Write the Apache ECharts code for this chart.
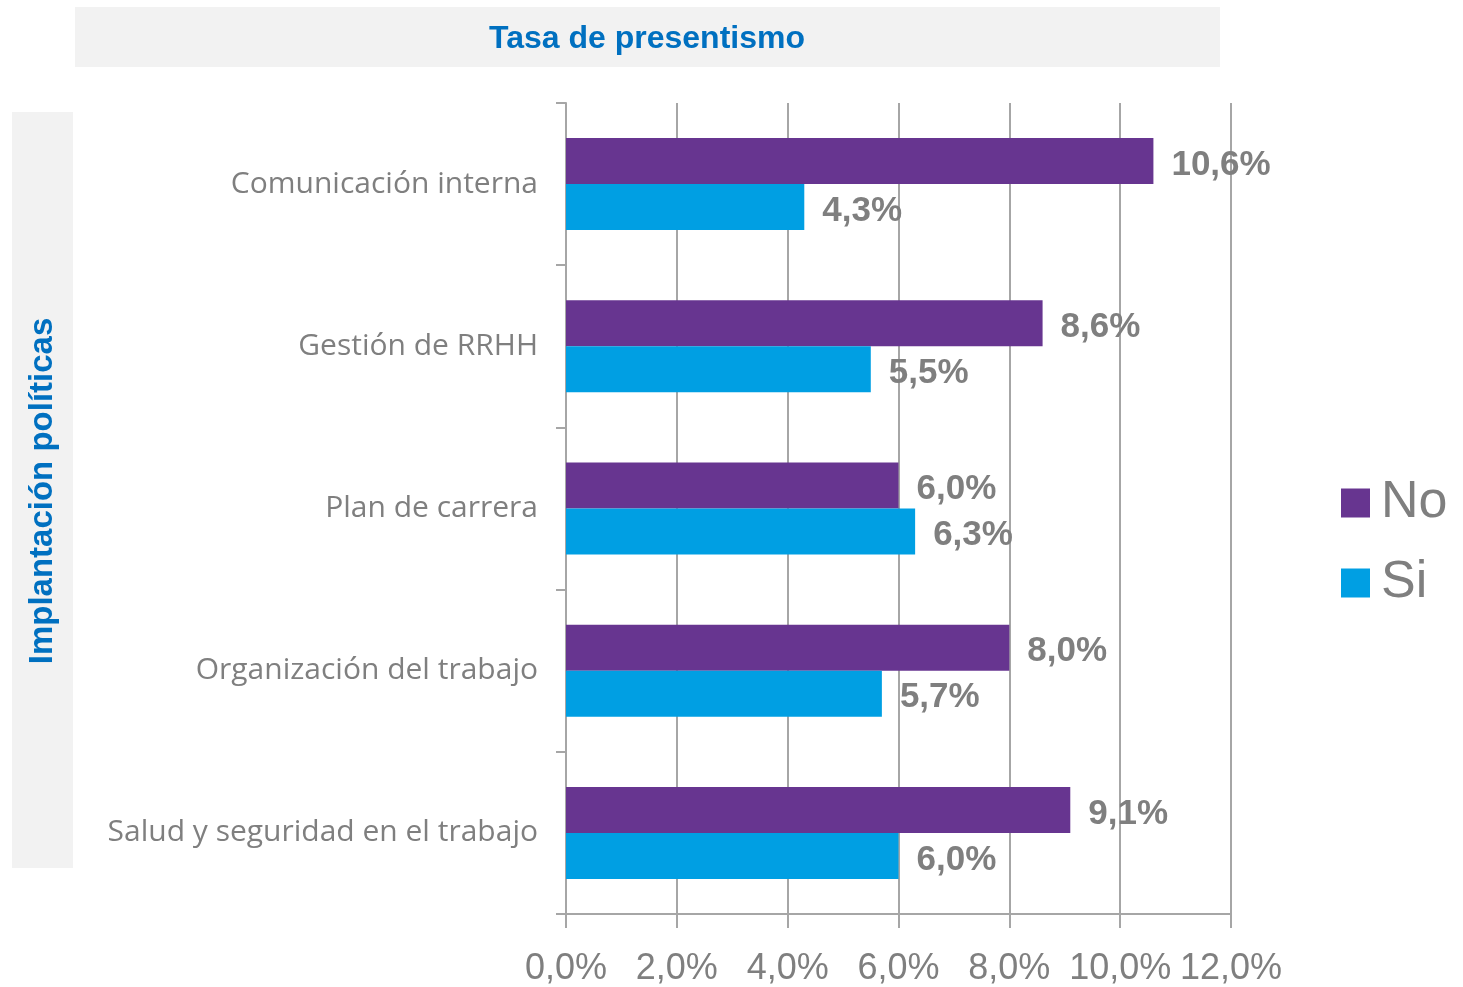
<!DOCTYPE html>
<html>
<head>
<meta charset="utf-8">
<script src="https://cdn.jsdelivr.net/npm/echarts@6/dist/echarts.min.js"></script>
<style>
  html, body { margin: 0; padding: 0; background: #ffffff; }
  #container { width: 1463px; height: 987px; }
</style>
</head>
<body>
<div id="container"></div>
<script>
// chart values
var categorias = ['Comunicación interna', 'Gestión de RRHH', 'Plan de carrera', 'Organización del trabajo', 'Salud y seguridad en el trabajo'];
var valoresNo = [10.6, 8.6, 6.0, 8.0, 9.1];
var valoresSi = [4.3, 5.5, 6.3, 5.7, 6.0];
var nombresSeries = ['No', 'Si'];
var titulo = 'Tasa de presentismo';
var tituloEje = 'Implantación políticas';

function pct(v) {
    return Number(v).toFixed(1).replace('.', ',') + '%';
}

var chartDom = document.getElementById('container');
var myChart = echarts.init(chartDom);
var gris = '#7f7f7f';
var lineas = '#a6a6a6';

var etiqueta = {
    show: true,
    position: 'right',
    distance: 18,
    offset: [0, 4],
    fontSize: 35,
    fontWeight: 'bold',
    fontFamily: 'Liberation Sans, sans-serif',
    color: gris,
    formatter: function (p) { return pct(p.value); }
};

var option = {
    animation: false,
    title: {
        text: titulo,
        left: 642,
        top: 18,
        textAlign: 'center',
        textStyle: {
            fontSize: 32,
            fontWeight: 'bold',
            fontFamily: 'Liberation Sans, sans-serif',
            color: '#0070c0'
        }
    },
    graphic: [
        { type: 'rect', z: -1, shape: { x: 75, y: 7, width: 1145, height: 60 }, style: { fill: '#f2f2f2' } },
        { type: 'rect', z: -1, shape: { x: 12, y: 112, width: 61, height: 756 }, style: { fill: '#f2f2f2' } },
        {
            type: 'text',
            x: 43,
            y: 491,
            rotation: Math.PI / 2,
            style: {
                text: tituloEje,
                align: 'center',
                verticalAlign: 'middle',
                fontSize: 33,
                fontWeight: 'bold',
                fontFamily: 'Liberation Sans, sans-serif',
                fill: '#0070c0'
            }
        }
    ],
    legend: {
        orient: 'vertical',
        left: 1341,
        top: 477,
        padding: 0,
        itemWidth: 29,
        itemHeight: 29,
        itemGap: 28,
        icon: 'rect',
        data: nombresSeries,
        textStyle: {
            fontSize: 52,
            fontFamily: 'Liberation Sans, sans-serif',
            color: gris,
            padding: [0, 0, 0, 6]
        }
    },
    grid: {
        left: 566,
        right: 232,
        top: 103,
        bottom: 71
    },
    xAxis: {
        type: 'value',
        min: 0,
        max: 12,
        interval: 2,
        axisLine: { show: true, lineStyle: { color: lineas, width: 2 } },
        axisTick: { show: true, length: 14, lineStyle: { color: lineas, width: 2 } },
        splitLine: { show: true, lineStyle: { color: lineas, width: 2 } },
        axisLabel: {
            margin: 37,
            fontSize: 36,
            showMaxLabel: true,
            showMinLabel: true,
            hideOverlap: false,
            fontFamily: 'Liberation Sans Narrow, Liberation Sans, sans-serif',
            color: gris,
            formatter: pct
        }
    },
    yAxis: {
        type: 'category',
        inverse: true,
        data: categorias,
        axisLine: { show: true, lineStyle: { color: lineas, width: 2 } },
        axisTick: { show: true, length: 10, lineStyle: { color: lineas, width: 2 } },
        axisLabel: {
            margin: 28,
            fontSize: 30,
            fontFamily: 'Open Sans, sans-serif',
            color: gris
        }
    },
    series: [
        {
            name: nombresSeries[0],
            type: 'bar',
            barWidth: 46,
            barGap: '0%',
            data: valoresNo,
            itemStyle: { color: '#673590' },
            label: etiqueta
        },
        {
            name: nombresSeries[1],
            type: 'bar',
            barWidth: 46,
            barGap: '0%',
            data: valoresSi,
            itemStyle: { color: '#009fe3' },
            label: etiqueta
        }
    ]
};

option && myChart.setOption(option);
</script>
</body>
</html>
